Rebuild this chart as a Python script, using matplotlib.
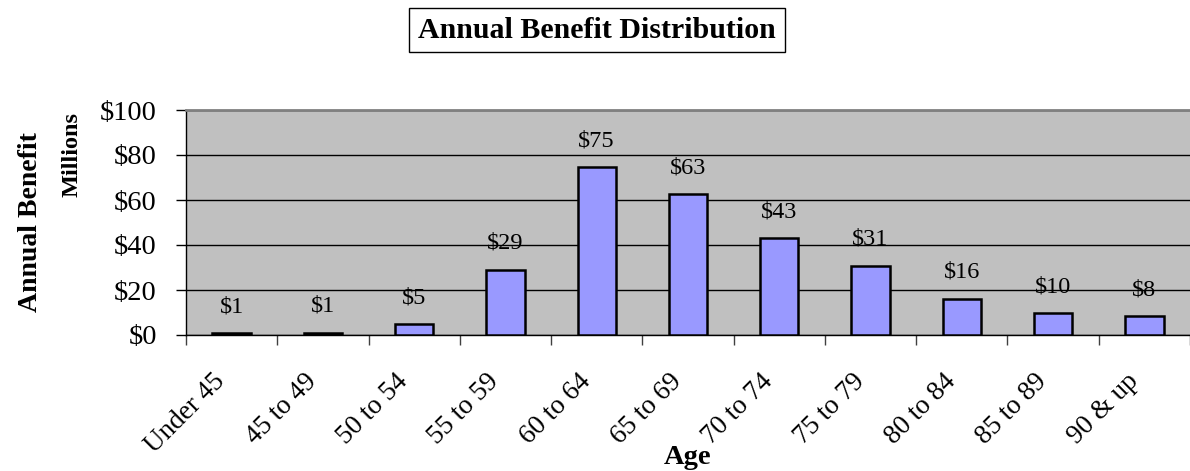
import matplotlib
matplotlib.use("Agg")
import matplotlib.pyplot as plt
import matplotlib.transforms as mtransforms
import numpy as np

plt.rcParams["font.family"] = ["Liberation Serif", "DejaVu Serif"]

age_groups = ["Under 45", "45 to 49", "50 to 54", "55 to 59", "60 to 64",
              "65 to 69", "70 to 74", "75 to 79", "80 to 84", "85 to 89", "90 & up"]
benefit_millions = [0.9, 1.0, 4.8, 29.1, 74.6, 62.7, 43.1, 30.8, 16.2, 9.7, 8.4]
y_ticks = [0, 20, 40, 60, 80, 100]

fig = plt.figure(figsize=(11.9, 4.71), dpi=100)
ax = fig.add_axes([186 / 1190, 1 - 335 / 471, 1 - 186 / 1190, 225 / 471])
ax.set_facecolor("#C0C0C0")

x = np.arange(len(age_groups))
ax.bar(x, benefit_millions, width=0.42, color="#9999FF", edgecolor="black",
       linewidth=1.8, zorder=3)
for xi, v in zip(x, benefit_millions):
    ax.annotate(f"${v:.0f}", (xi, v), xytext=(0, 19), textcoords="offset points",
                ha="center", va="center", fontsize=17.5, zorder=4)

ax.set_xlim(-0.5, len(age_groups) - 0.5)
ax.set_ylim(0, 100)
ax.set_yticks(y_ticks)
ax.set_yticklabels([f"${t}" for t in y_ticks], fontsize=20.5)
ax.yaxis.grid(True, color="black", linewidth=1, zorder=1)
ax.tick_params(axis="y", direction="out", length=7, width=1, pad=14)

ax.set_xticks(x)
ax.set_xticklabels(age_groups, fontsize=19.5, rotation=45, ha="right",
                   va="center", rotation_mode="anchor")
ax.set_xticks(np.arange(-0.5, len(age_groups)), minor=True)
ax.tick_params(axis="x", which="major", length=0, pad=31)
ax.tick_params(axis="x", which="minor", direction="out", length=7, width=1,
               color="#404040")
shift = mtransforms.ScaledTranslation(-10 / 100, 0, fig.dpi_scale_trans)
for lab in ax.get_xticklabels():
    lab.set_transform(lab.get_transform() + shift)

for side in ("left", "bottom"):
    ax.spines[side].set_color("black")
    ax.spines[side].set_linewidth(1)
ax.spines["top"].set_color("#808080")
ax.spines["top"].set_linewidth(2)
ax.spines["right"].set_visible(False)

fig.text(597 / 1190, 1 - 30 / 471, "Annual Benefit Distribution", ha="center",
         va="center", fontsize=21.5, fontweight="bold",
         bbox=dict(boxstyle="square,pad=0.3", facecolor="white",
                   edgecolor="black", linewidth=1))
fig.text(31 / 1190, 1 - 222 / 471, "Annual Benefit", rotation=90, ha="center",
         va="center", fontsize=20, fontweight="bold")
fig.text(72 / 1190, 1 - 155 / 471, "Millions", rotation=90, ha="center",
         va="center", fontsize=17.5, fontweight="bold")
fig.text(688 / 1190, 1 - 457 / 471, "Age", ha="center", va="center",
         fontsize=20.5, fontweight="bold")

fig.savefig("out.png", dpi=100)
